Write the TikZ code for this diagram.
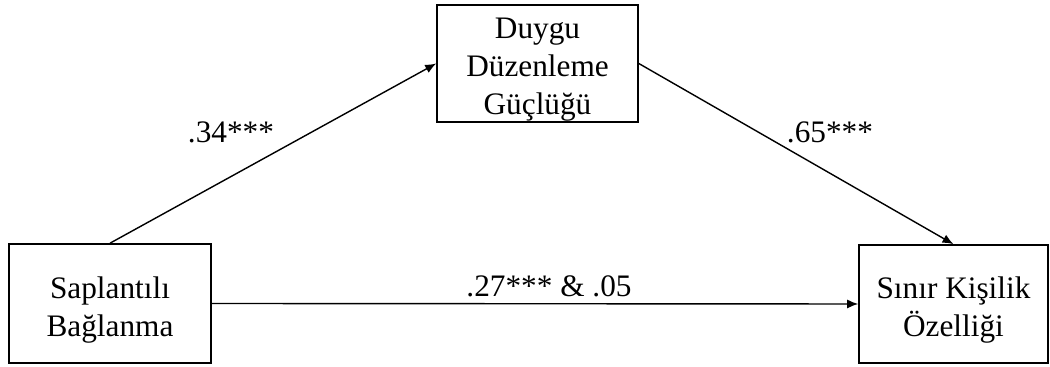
\documentclass[tikz,border=0pt]{standalone}
\usepackage{fontspec}
\setmainfont{Liberation Serif}
\usetikzlibrary{arrows.meta}
\tikzset{
    kutu/.style = {draw, black, line width=0.45pt, inner sep=0pt},
    metin/.style = {align=center, yshift=-0.065cm, font=\fontsize{8.9}{10.8}\selectfont},
    ok/.style = {black, line width=0.4pt, -{Latex[length=1.1mm, width=0.9mm]}},
    katsayi/.style = {font=\fontsize{8.9}{10.8}\selectfont}
}
\begin{document}
\begin{tikzpicture}
                \useasboundingbox (0,0) rectangle (10.5,3.67);
                \node[kutu, minimum width=2.02cm, minimum height=1.19cm,
                      label={[metin]center:Saplantılı\\Bağlanma}] (sb) at (1.10,0.635) {};
                \node[kutu, minimum width=2.01cm, minimum height=1.17cm,
                      label={[metin]center:Duygu\\Düzenleme\\Güçlüğü}] (ddg) at (5.375,3.035) {};
                \node[kutu, minimum width=1.89cm, minimum height=1.18cm,
                      label={[metin]center:Sınır Kişilik\\Özelliği}] (sko) at (9.535,0.63) {};
                \draw[ok] (sb.north) -- (ddg.west);
                \draw[ok] (ddg.east) -- (sko.north);
                \draw[ok] (sb.east) -- (sko.west);
                \node[katsayi] (a) at (2.31,2.35) {.34***};
                \node[katsayi] (b) at (8.30,2.35) {.65***};
                \node[katsayi] (c) at (5.49,0.81) {.27*** \& .05};
            \end{tikzpicture}
\end{document}
